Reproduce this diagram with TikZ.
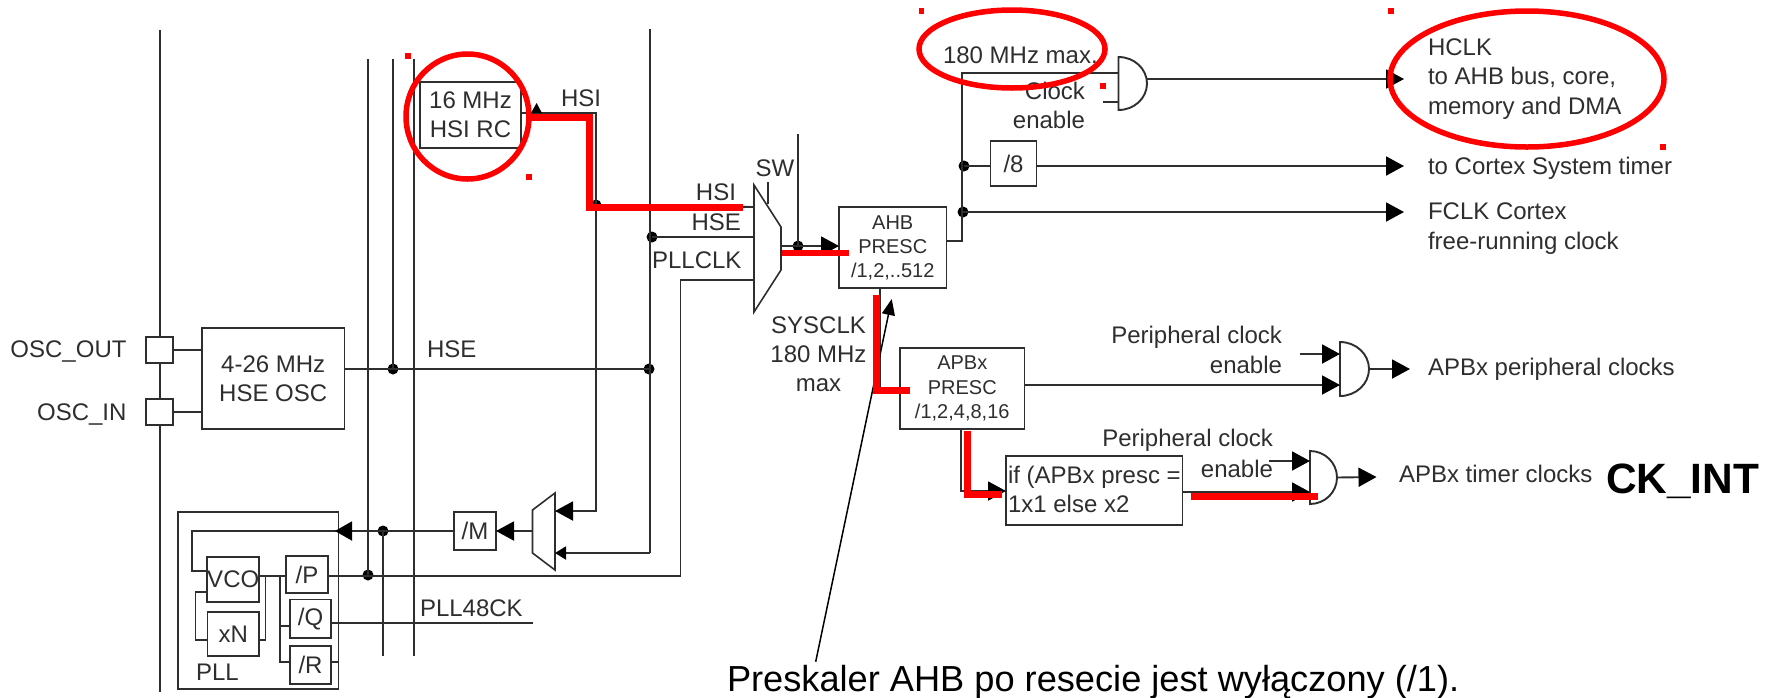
\documentclass[tikz,border=0pt]{standalone}
\usepackage{fontspec}
\setmainfont{Liberation Sans}
\usetikzlibrary{arrows.meta,shapes.geometric}
\definecolor{ink}{HTML}{2E2E2E}
\definecolor{redm}{HTML}{FF0000}
\tikzset{
  x=1pt,y=-1pt,
  wire/.style={draw=ink,line width=1.9pt,line join=miter},
  thin wire/.style={draw=ink,line width=1.5pt},
  big/.style={-{Triangle[length=18pt,width=19pt,black]}},
  mid/.style={-{Triangle[length=11pt,width=13pt,black]}},
  hl/.style={draw=redm,line width=7pt,line cap=butt,line join=miter},
  ring/.style={ellipse,draw=redm,line width=5.5pt,inner sep=0pt,outer sep=0pt,fill=none},
  speck/.style={fill=redm,inner sep=0pt,minimum size=5.5pt,rectangle},
  jdot/.style={circle,fill=black,inner sep=0pt,minimum size=11pt},
  boxn/.style={draw=ink,line width=1.9pt,inner sep=0pt,outer sep=0pt,align=center,text=ink},
  lbl/.style={inner sep=0pt,outer sep=0pt,text=ink,font=\fontsize{24}{29}\selectfont,text height=17pt,text depth=0pt},
  lbll/.style={lbl,anchor=west},
  lblr/.style={lbl,anchor=east},
  ml/.style={inner sep=0pt,outer sep=0pt,text=ink,align=left,anchor=west,font=\fontsize{24}{29.5}\selectfont},
  mc/.style={inner sep=0pt,outer sep=0pt,text=ink,align=center,font=\fontsize{24}{29}\selectfont},
}
\newcommand\bxn[7][\fontsize{24}{29}\selectfont]{%
  \node[boxn,font=#1,minimum width={#5-#3},minimum height={#6-#4}] (#2) at ({(#3+#5)/2},{(#4+#6)/2}) {#7};}
\newcommand\andg[5]{% name, x, top, bottom, rx
  \draw[wire,fill=white] (#2,#3) -- (#2,#4) arc[start angle=-90,end angle=90,x radius=#5pt,y radius={(#4-#3)/2*1pt}] -- cycle;
  \coordinate (#1) at (#2+#5,{(#3+#4)/2});
  \coordinate (#1i) at (#2,{(#3+#4)/2});}
\begin{document}
\begin{tikzpicture}
\useasboundingbox (0,0) rectangle (1773,697);
% boxes
\bxn{oscout}{146}{337}{173}{363}{}
\bxn{oscin}{146}{399}{173}{425}{}
\bxn{hse}{202}{328}{344.5}{429}{4-26 MHz\\HSE OSC}
\bxn{hsi}{420}{82}{521}{148}{16 MHz\\HSI RC}
\bxn{pllb}{178}{512}{338.5}{689}{}
\bxn{vco}{207.5}{557}{259}{602}{VCO}
\bxn{xn}{207.5}{612}{259}{656}{xN}
\bxn{divp}{286}{556}{328}{593}{/P}
\bxn{divq}{290}{599.5}{331}{638}{/Q}
\bxn{divr}{290}{646}{331}{684}{/R}
\bxn{divm}{454}{512}{496}{550}{/M}
\bxn[\fontsize{20}{24}\selectfont]{ahb}{839}{207}{946.5}{288}{AHB\\PRESC\\/1,2,..512}
\bxn[\fontsize{20}{24.5}\selectfont]{apb}{900}{348}{1024.5}{429}{APBx\\PRESC\\/1,2,4,8,16}
\bxn{div8}{990.5}{141}{1036.5}{186}{/8}
\bxn{iff}{1006}{456}{1182.5}{525}{}
% coordinates
\coordinate (c0a) at (160,30);
\coordinate (c0b) at (160,692);
\coordinate (b1t) at (368,59);
\coordinate (b2t) at (393,59);
\coordinate (b3t) at (414,59);
\coordinate (b3b) at (414,656);
\coordinate (b4b) at (383,656);
\coordinate (hsc) at (596,113);
\coordinate (hseb) at (650,29);
\coordinate (hsec) at (650,553);
\coordinate (pll) at (680.5,280);
\coordinate (pld) at (680.5,576);
\coordinate (loopa) at (192,531);
\coordinate (loopb) at (192,571);
\coordinate (fbl) at (195.7,592);
\coordinate (fbb) at (195.7,640);
\coordinate (rbr) at (265.7,576);
\coordinate (rbb) at (265.7,640);
\coordinate (pb) at (280,576);
\coordinate (pbq) at (280,626);
\coordinate (pbr) at (280,662);
\coordinate (q48) at (533,623);
\coordinate (swt) at (798,134);
\coordinate (apbup) at (962,73);
\coordinate (apbdn) at (962,241);
\coordinate (g1a) at (1103,102);
\coordinate (hclke) at (1404,79);
\coordinate (syse) at (1404,166);
\coordinate (fclke) at (1404,212);
% junctions
\node[jdot] (j1) at (596,205) {};
\node[jdot] (j2) at (393,369) {};
\node[jdot] (j3) at (649,369) {};
\node[jdot] (j4) at (652,237) {};
\node[jdot] (j5) at (798,246) {};
\node[jdot] (j6) at (964,166) {};
\node[jdot] (j7) at (963,212) {};
\node[jdot] (j8) at (368,575) {};
\node[jdot] (j9) at (383,531) {};
% muxes
\draw[wire,line width=1.6pt,fill=white] (754,185) -- (781,227) -- (781,270) -- (754,312) -- cycle;
\draw[wire,line width=1.6pt,fill=white] (555,493) -- (532.5,510) -- (532.5,553) -- (555,570) -- cycle;
\coordinate (m1i1) at (754,207);\coordinate (m1i2) at (754,237);\coordinate (m1i3) at (754,280);
\coordinate (m1o) at (781,246);
\coordinate (m2i1) at (555,511);\coordinate (m2i2) at (555,553);\coordinate (m2o) at (532.5,531);
% gates
\andg{g1}{1118.5}{57}{110}{28.5}
\andg{g2}{1340}{342}{396}{29}
\andg{g3}{1310}{451}{504}{27}
% bus lines
\draw[wire] (c0a) -- (oscout.north -| c0a);
\draw[wire] (oscout.south -| c0a) -- (oscin.north -| c0a);
\draw[wire] (oscin.south -| c0a) -- (c0b);
\draw[wire] (b1t) -- (j8.center);
\draw[wire] (b2t) -- (j2.center);
\draw[wire] (b3t) -- (b3b);
\draw[wire] (j9.center) -- (b4b);
% HSI
\draw[wire] (hsi.east |- hsc) -- (hsc) -- (j1.center) -- (m1i1);
\draw[wire,big] (j1.center) -- (hsc |- m2i1) -- (m2i1);
\fill[black] (531,113) -- (536.6,103) -- (542,113) -- cycle;
% HSE
\draw[wire] (oscout.east) -- (hse.west |- oscout.east);
\draw[wire] (oscin.east) -- (hse.west |- oscin.east);
\draw[wire] (hse.east |- j2) -- (j3.center);
\draw[wire] (hseb) -- (hseb |- hsec);
\draw[wire,mid] (hsec) -- (m2i2);
\draw[wire] (j4.center) -- (m1i2);
% PLLCLK
\draw[wire] (m1i3) -- (pll) -- (pld) -- (divp.east |- pld);
% mux to M to PLL
\draw[wire,big] (m2o) -- (divm.east |- m2o);
\draw[wire] (divm.west |- m2o) -- (loopa) -- (loopb) -- (vco.west |- loopb);
\draw[wire,-{Triangle[length=17pt,width=19pt,black]}] (j9.center) -- (335,531);
% inside PLL
\draw[thin wire] (vco.west |- fbl) -- (fbl) -- (fbb) -- (xn.west |- fbb);
\draw[thin wire] (vco.east |- rbr) -- (divp.west |- rbr);
\draw[thin wire] (rbr) -- (rbb) -- (xn.east |- rbb);
\draw[thin wire] (pb) -- (pbr) -- (divr.west |- pbr);
\draw[thin wire] (pbq) -- (divq.west |- pbq);
\draw[wire] (divq.east |- q48) -- (q48);
\draw[thin wire] (divr.east |- pbr) -- (pllb.east |- pbr);
% SW and AHB
\coordinate (swa) at (768,182);
\draw[thin wire] (swa) -- (768,204);
\draw[wire] (swt) -- (j5.center);
\draw[wire,big] (m1o) -- (ahb.west |- m1o);
\draw[wire] (ahb.east |- apbdn) -- (apbdn) -- (apbup) -- (g1i |- apbup);
\draw[wire,big] (g1 |- hclke) -- (hclke);
\draw[wire] (g1a) -- (g1i |- g1a);
\draw[wire] (j6.center) -- (div8.west |- j6);
\draw[wire,big] (div8.east |- j6) -- (syse);
\draw[wire,big] (j7.center) -- (fclke);
% APB
\draw[wire] (880,288) -- (880,388) -- (apb.west |- 0,388);
\draw[wire,big] (apb.east |- 0,385) -- (g2i |- 0,385);
\draw[wire,big] (1300,354) -- (g2i |- 0,354);
\draw[wire,big] (g2) -- (1410,369);
\draw[wire,big] (961,429) -- (961,491) -- (iff.west |- 0,491);
\draw[wire,big] (iff.east |- 0,492) -- (g3i |- 0,492);
\draw[wire,big] (1269,461) -- (g3i |- 0,461);
\draw[wire,big] (g3) -- (1376.5,477);
% labels
\node[lblr] (t1) at (126.5,349) {OSC\_OUT};
\node[lblr] (t2) at (126.5,412) {OSC\_IN};
\node[lbll] (t3) at (427,349) {HSE};
\node[lbll] (t4) at (561,98) {HSI};
\node[lbll] (t5) at (420,607.5) {PLL48CK};
\node[lbll] (t6) at (196,672) {PLL};
\node[lblr] (t7) at (736,192) {HSI};
\node[lblr] (t8) at (741,222) {HSE};
\node[lblr] (t9) at (741.5,260) {PLLCLK};
\node[lbl] (t10) at (775,168) {SW};
\node[mc] (t11) at (818.5,354) {SYSCLK\\180 MHz\\max};
\node[lbll] (t12) at (943,55) {180 MHz max.};
\node[lblr] (t13) at (1085,91) {Clock};
\node[lblr] (t14) at (1085,120) {enable};
\node[ml] (t15) at (1428,79) {HCLK\\to AHB bus, core,\\memory and DMA};
\node[lbll] (t16) at (1428,166) {to Cortex System timer};
\node[ml] (t17) at (1428,228.5) {FCLK Cortex\\free-running clock};
\node[lblr] (t18) at (1282,335) {Peripheral clock};
\node[lblr] (t19) at (1282,364.5) {enable};
\node[lbll] (t20) at (1428,367) {APBx peripheral clocks};
\node[lblr] (t21) at (1273,438) {Peripheral clock};
\node[lblr] (t22) at (1273,469) {enable};
\node[lbll] (t23) at (1399,474) {APBx timer clocks};
\node[ml] (t24) at (1008,489.5) {if (APBx presc =\\1x1 else x2};
\node[lbll,font=\bfseries\fontsize{42.4}{44}\selectfont,text=black,text height=30pt] (t25) at (1606,478) {CK\_INT};
\node[lbll,font=\fontsize{36.2}{40}\selectfont,text=black,text height=26pt] (t26) at (727,678) {Preskaler AHB po resecie jest wyłączony (/1).};
% leader
\coordinate (lead) at (815.7,661.7);
\coordinate (leadtip) at (891.7,299);
\draw[black,line width=1.5pt,-{Triangle[length=16pt,width=13pt]}] (lead) -- (leadtip);
% red highlight
\draw[hl] (530,117) -- (589,117) -- (589,207) -- (743,207);
\draw[hl,line width=6pt] (782,253) -- (849,253);
\draw[hl] (876,295) -- (876,390) -- (910,390);
\draw[hl] (967,431) -- (967,494) -- (1002,494);
\draw[hl] (1190.5,496) -- (1318,496);
\node[ring,minimum width=123pt,minimum height=125pt] (r1) at (467.5,116.5) {};
\node[ring,minimum width=186pt,minimum height=78pt] (r2) at (1012,49) {};
\node[ring,minimum width=274pt,minimum height=136pt] (r3) at (1527,79) {};
\node[speck] (s1) at (408,56) {};
\node[speck] (s2) at (529,177) {};
\node[speck] (s3) at (921.5,11) {};
\node[speck] (s4) at (1103,86) {};
\node[speck] (s5) at (1391,11) {};
\node[speck] (s6) at (1663,147) {};
\end{tikzpicture}
\end{document}
